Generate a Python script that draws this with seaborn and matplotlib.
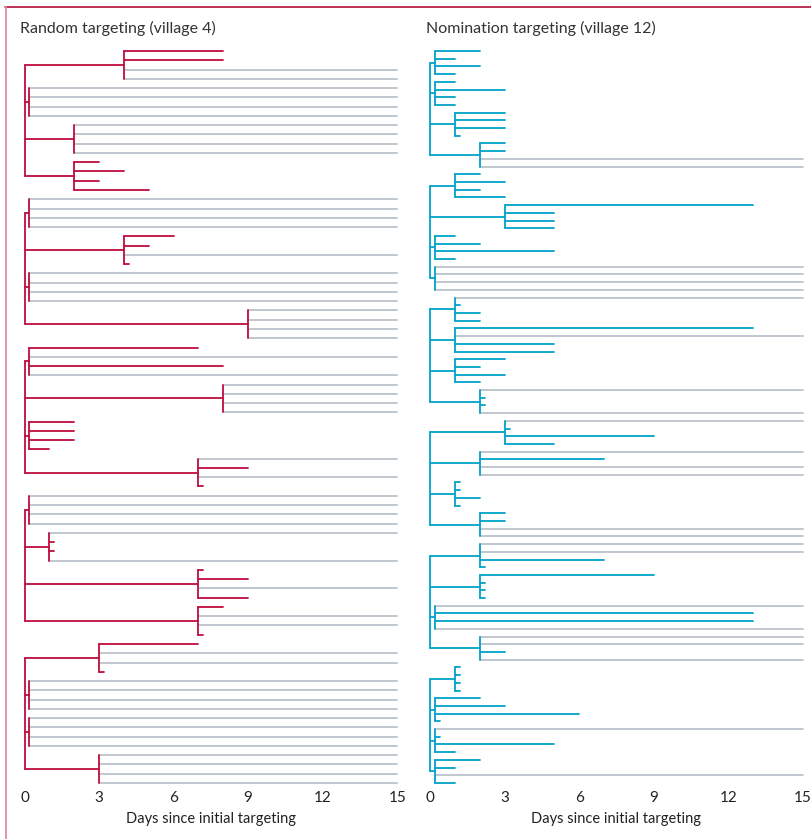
import numpy as np
import pandas as pd
import matplotlib.pyplot as plt
import seaborn as sns
from matplotlib.lines import Line2D

nan = np.nan

# day each contact adopted; nan = never adopted (grey line to day 15)
random_nodes = [
    [4, 0.2, 2, 2],
    [0.2, 4, 0.2, 9],
    [0.2, 8, 0.2, 7],
    [0.2, 1, 7, 7],
    [3, 0.2, 0.2, 3],
]
random_leaves = [
    [[8, 8, nan, nan], [nan, nan, nan, nan], [nan, nan, nan, nan], [3, 4, 3, 5]],
    [[nan, nan, nan, nan], [6, 5, nan, 4.2], [nan, nan, nan, nan], [nan, nan, nan, nan]],
    [[7, nan, 8, nan], [nan, nan, nan, nan], [2, 2, 2, 1], [nan, 9, nan, 7.2]],
    [[nan, nan, nan, nan], [nan, 1.2, 1.2, nan], [7.2, 9, nan, 9], [8, nan, nan, 7.2]],
    [[7, nan, nan, 3.2], [nan, nan, nan, nan], [nan, nan, nan, nan], [nan, nan, nan, nan]],
]

nomination_nodes = [
    [0.2, 0.2, 1, 2],
    [1, 3, 0.2, 0.2],
    [1, 1, 1, 2],
    [3, 2, 1, 2],
    [2, 2, 0.2, 2],
    [1, 0.2, 0.2, 0.2],
]
nomination_leaves = [
    [[2, 1, 2, 1], [1, 3, 1, 1], [3, 3, 3, 1.2], [3, 3, nan, nan]],
    [[2, 3, 2, 3], [13, 5, 5, 5], [1, 2, 5, 1], [nan, nan, nan, nan]],
    [[nan, 1.2, 2, 2], [13, nan, 5, 5], [3, 2, 3, 2], [nan, 2.2, 2.2, nan]],
    [[nan, 3.2, 9, 5], [nan, 7, nan, nan], [1.2, 1.2, 2, 1.2], [3, 3, nan, nan]],
    [[nan, nan, 7, 2.2], [9, 2.2, 2.2, 2.2], [nan, 13, 13, nan], [nan, nan, 3, nan]],
    [[1.2, 1.2, 1.2, 1.2], [2, 3, 6, 0.4], [nan, 0.4, 5, 1], [2, 1, nan, 1]],
]

END_DAY = 15
RED = "#bf0d3e"
BLUE = "#00a3c9"
GREY = "#bcc3cb"


def tree_segments(nodes, leaves):
    """Turn the nested times into a long table of 2-point segments."""
    rows = []
    seg = 0
    leaf_y = 0

    def add(x0, y0, x1, y1, kind):
        nonlocal seg
        rows.append((seg, x0, y0, kind))
        rows.append((seg, x1, y1, kind))
        seg += 1

    for g_nodes, g_leaves in zip(nodes, leaves):
        sub_y = []
        for t_node, l_times in zip(g_nodes, g_leaves):
            ys = [leaf_y + k for k in range(len(l_times))]
            leaf_y += len(l_times)
            for y, t in zip(ys, l_times):
                if np.isnan(t):
                    add(t_node, y, END_DAY, y, "none")
                else:
                    add(t_node, y, t, y, "adopt")
            mid = np.mean(ys)
            sub_y.append(mid)
            add(t_node, ys[0], t_node, ys[-1], "adopt")
            add(0, mid, t_node, mid, "adopt")
        add(0, sub_y[0], 0, sub_y[-1], "adopt")
    df = pd.DataFrame(rows, columns=["seg", "x", "y", "kind"])
    return df, leaf_y


sns.set_theme(style="white")
plt.rcParams["font.family"] = ["Lato", "DejaVu Sans"]

fig = plt.figure(figsize=(8.11, 8.39), dpi=100)
W, H = 811, 839
bottom = 1 - 783 / H
height = (783 - 51) / H
px_day = 24.85

panels = [
    ("Random targeting (village 4)", random_nodes, random_leaves, RED, 24.5),
    ("Nomination targeting (village 12)", nomination_nodes, nomination_leaves, BLUE, 430),
]

for title, nodes, leaves, color, x0 in panels:
    ax = fig.add_axes([x0 / W, bottom, END_DAY * px_day / W, height])
    df, n = tree_segments(nodes, leaves)
    for kind, c in [("none", GREY), ("adopt", color)]:
        sub = df[df["kind"] == kind]
        sns.lineplot(data=sub, x="x", y="y", units="seg", estimator=None, sort=False,
                     color=c, lw=1.3, ax=ax, legend=False, clip_on=False)
    ax.set_xlim(0, END_DAY)
    ax.set_ylim(n - 1, 0)
    ax.set_yticks([])
    ax.set_xticks([0, 3, 6, 9, 12, 15])
    ax.tick_params(axis="x", length=0, pad=6, labelsize=11, labelcolor="#222222")
    ax.set_xlabel("Days since initial targeting", fontsize=10.5, color="#222222", labelpad=5)
    ax.set_ylabel("")
    sns.despine(ax=ax, left=True, bottom=True)
    fig.text((x0 - 4) / W, 1 - 28 / H, title, fontsize=11.5, color="#333333",
             ha="left", va="center")

# page frame
fig.add_artist(Line2D([5 / W, 1], [1 - 7 / H, 1 - 7 / H], color="#b0103a", lw=1.2))
fig.add_artist(Line2D([5.5 / W, 5.5 / W], [0, 1 - 7 / H], color="#e38aa0", lw=1.3))

fig.savefig("out.png", dpi=100)
